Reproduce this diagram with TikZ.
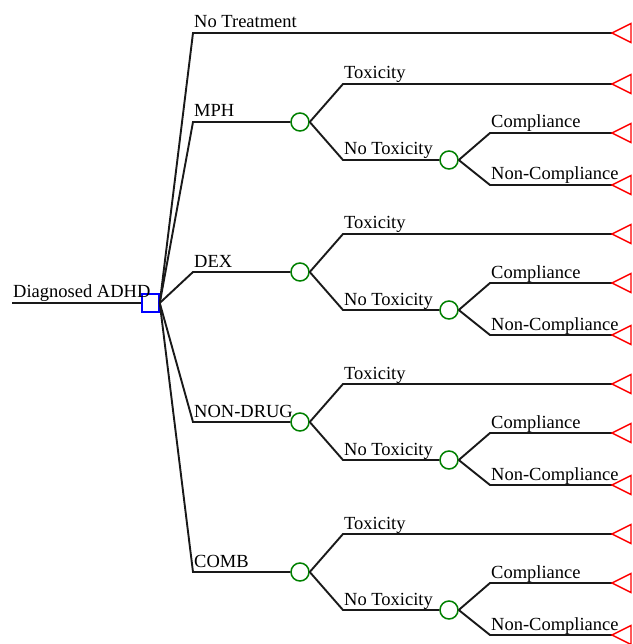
\documentclass[tikz,border=0pt]{standalone}
\usepackage{fontspec}
\setmainfont{Liberation Serif}
\begin{document}
\begin{tikzpicture}[x=1pt,y=-1pt,
  branch/.style={line width=1.9pt, black!90},
  chance/.style={circle, draw=green!50!black, line width=1.5pt, minimum size=18pt, inner sep=0pt},
  decision/.style={rectangle, draw=blue, line width=1.5pt, minimum width=17pt, minimum height=18pt, inner sep=0pt},
  term/.style={draw=red, line width=1.4pt, line join=miter},
  lbl/.style={font=\fontsize{18.5}{22}\selectfont, anchor=base west, inner sep=0pt}]
\useasboundingbox (0,0) rectangle (632,644);

% root
\coordinate (start) at (12,303);
\node[decision] (root) at (150.5,303) {};
\draw[branch] (start) -- (root.west);
\node[lbl] (lroot) at (13,297) {Diagnosed ADHD};

% No treatment
\coordinate (bNT) at (193,33);
\coordinate (tNT) at (612,33);
\draw[branch] (root.east) -- (bNT) -- (tNT);
\draw[term] (tNT) -- ++(19,-9.5) -- ++(0,19) -- cycle;
\node[lbl] (lNT) at (194,28) {No Treatment};

\foreach \i/\y/\nm in {1/122/MPH, 2/272/DEX, 3/422/NON-DRUG, 4/572/COMB}{
  \coordinate (b\i) at (193,\y);
  \node[chance] (c\i) at (300,\y) {};
  \draw[branch] (root.east) -- (b\i) -- (c\i.west);
  \node[lbl] (l\i) at (194,{\y-5}) {\nm};
  % toxicity
  \coordinate (tx\i) at (343,{\y-38});
  \coordinate (ttx\i) at (612,{\y-38});
  \draw[branch] (c\i.east) -- (tx\i) -- (ttx\i);
  \draw[term] (ttx\i) -- ++(19,-9.5) -- ++(0,19) -- cycle;
  \node[lbl] (ltx\i) at (344,{\y-43}) {Toxicity};
  % no toxicity
  \coordinate (nt\i) at (343,{\y+38});
  \node[chance] (cc\i) at (449,{\y+38}) {};
  \draw[branch] (c\i.east) -- (nt\i) -- (cc\i.west);
  \node[lbl] (lnt\i) at (344,{\y+33}) {No Toxicity};
  % compliance
  \coordinate (cp\i) at (490,{\y+11});
  \coordinate (tcp\i) at (612,{\y+11});
  \draw[branch] (cc\i.east) -- (cp\i) -- (tcp\i);
  \draw[term] (tcp\i) -- ++(19,-9.5) -- ++(0,19) -- cycle;
  \node[lbl] (lcp\i) at (491,{\y+6}) {Compliance};
  % non-compliance
  \coordinate (nc\i) at (490,{\y+63});
  \coordinate (tnc\i) at (612,{\y+63});
  \draw[branch] (cc\i.east) -- (nc\i) -- (tnc\i);
  \draw[term] (tnc\i) -- ++(19,-9.5) -- ++(0,19) -- cycle;
  \node[lbl] (lnc\i) at (491,{\y+58}) {Non-Compliance};
}
\end{tikzpicture}
\end{document}
